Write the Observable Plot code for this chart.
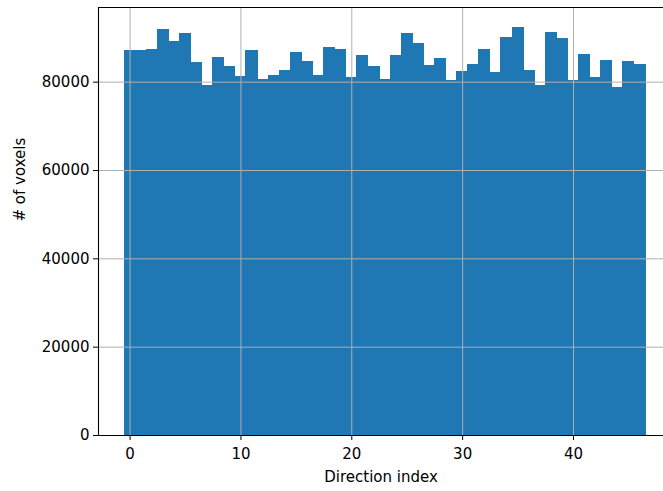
<!DOCTYPE html>
<html>
<head>
<meta charset="utf-8">
<script src="https://cdn.jsdelivr.net/npm/d3@7"></script>
<script src="https://cdn.jsdelivr.net/npm/@observablehq/plot@0.6"></script>
<style>
  html, body { margin: 0; padding: 0; background: #fff; }
  #chart { width: 663px; height: 491px; }
</style>
</head>
<body>
<div id="chart"></div>
<script>
const directionIndex = [0,1,2,3,4,5,6,7,8,9,10,11,12,13,14,15,16,17,18,19,20,21,22,23,24,25,26,27,28,29,30,31,32,33,34,35,36,37,38,39,40,41,42,43,44,45,46];
const voxelCounts = [
  87100, 87100, 87300, 92000, 89130, 90940, 84450, 79240, 85510, 83470,
  81280, 87100, 80530, 81580, 82560, 86790, 84750, 81580, 87840, 87310,
  81050, 86030, 83470, 80530, 86030, 91010, 88670, 83700, 85280, 80300,
  82410, 83920, 87310, 82180, 90180, 92300, 82560, 79320, 91240, 89960,
  80300, 86330, 81050, 84970, 78720, 84670, 83920
];
const xTicks = [0, 10, 20, 30, 40];
const yTicks = [0, 20000, 40000, 60000, 80000];
const xLabel = "Direction index";
const yLabel = "# of voxels";

const data = directionIndex.map((d, i) => ({ idx: d, count: voxelCounts[i] }));
const xDomain = [-2.85, 48.12];
const yDomain = [0, 96900];
const fontSize = 15;

const chart = Plot.plot({
  width: 663,
  height: 491,
  marginLeft: 98,
  marginRight: 0,
  marginTop: 7,
  marginBottom: 56,
  style: { fontFamily: "DejaVu Sans", fontSize: fontSize + "px", color: "#000", background: "#fff" },
  x: { domain: xDomain, type: "linear" },
  y: { domain: yDomain },
  marks: [
    Plot.rectY(data, { x1: d => d.idx - 0.5, x2: d => d.idx + 0.5, y1: 0, y2: "count", fill: "#1f77b4", insetLeft: -0.5, insetRight: -0.5, shapeRendering: "crispEdges" }),
    Plot.gridX(xTicks, { stroke: "#b0b0b0", strokeOpacity: 1, strokeWidth: 1 }),
    Plot.gridY(yTicks, { stroke: "#b0b0b0", strokeOpacity: 1, strokeWidth: 1 }),
    Plot.axisX(xTicks, { tickSize: 5, tickPadding: 8, label: null, tickFormat: d3.format("d"), fontSize: fontSize, stroke: "#000" }),
    Plot.axisY(yTicks, { tickSize: 5, tickPadding: 4, label: null, tickFormat: d3.format("d"), fontSize: fontSize, stroke: "#000" }),
    Plot.ruleX([xDomain[0]], { stroke: "#000", strokeWidth: 1.1 }),
    Plot.ruleY([0], { stroke: "#000", strokeWidth: 1.1 }),
    Plot.ruleY([yDomain[1]], { stroke: "#000", strokeWidth: 1.1 }),
    Plot.text([xLabel], { frameAnchor: "bottom", dy: 46, fontSize: fontSize, fill: "#000", text: d => d }),
    Plot.text([yLabel], { frameAnchor: "left", dx: -78, rotate: -90, fontSize: fontSize, fill: "#000", text: d => d })
  ]
});
document.getElementById("chart").appendChild(chart);
</script>
</body>
</html>
